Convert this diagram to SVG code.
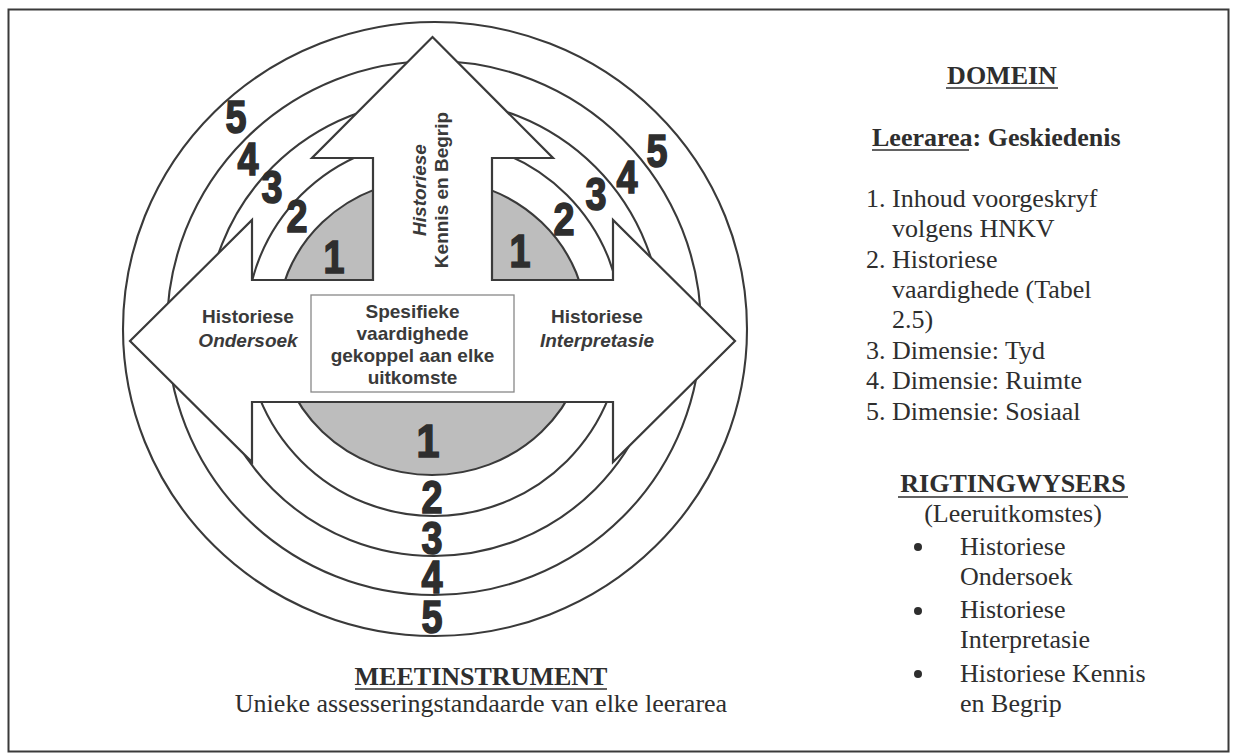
<svg xmlns="http://www.w3.org/2000/svg" width="1236" height="756" viewBox="0 0 1236 756">
<style>
.ln{fill:none;stroke:#3a3a3a;stroke-width:2.1}
.num{font-family:"Liberation Sans",Arial,sans-serif;font-weight:bold;font-size:47px;fill:#2e2e2e;stroke:#2e2e2e;stroke-width:1.6;text-anchor:middle}
.lbl{font-family:"Liberation Sans",Arial,sans-serif;font-weight:bold;font-size:19px;fill:#3a3a3a;text-anchor:middle}
.it{font-style:italic}
.ser{font-family:"Liberation Serif","Times New Roman",serif;font-size:26px;fill:#2e2e2e}
.b{font-weight:bold}
.ul{stroke:#2e2e2e;stroke-width:1.6}
</style>
<rect x="8.5" y="9.5" width="1220" height="742" fill="#ffffff" stroke="#3a3a3a" stroke-width="2"/>
<g id="rings">
<ellipse cx="435" cy="329" rx="312" ry="307" class="ln"/>
<circle cx="434" cy="328" r="267" class="ln"/>
<circle cx="434" cy="328" r="228" class="ln"/>
<circle cx="434" cy="328" r="188" class="ln"/>
<ellipse cx="432" cy="327" rx="155" ry="148" fill="#bdbdbd" stroke="#3a3a3a" stroke-width="2.1"/>
</g>
<g id="arrows">
<polygon points="432.5,37 553,158 492,158 492,280 613,280 613,220 735,341 613,462 613,402 252,402 252,462 130,341 252,220 252,280 373,280 373,158 312,158" fill="#ffffff" stroke="#3a3a3a" stroke-width="2.2" stroke-linejoin="miter"/>
</g>
<g id="center-box">
<rect x="311" y="295" width="203" height="97" fill="#ffffff" stroke="#888" stroke-width="1.3"/>
<text class="lbl" font-size="18.5"><tspan x="412.5" y="318">Spesifieke</tspan><tspan x="412.5" y="340">vaardighede</tspan><tspan x="412.5" y="362">gekoppel aan elke</tspan><tspan x="412.5" y="384">uitkomste</tspan></text>
</g>
<g id="arrow-left">
<text class="lbl"><tspan x="248" y="323">Historiese</tspan><tspan x="248" y="347" class="it">Ondersoek</tspan></text>
</g>
<g id="arrow-right">
<text class="lbl"><tspan x="597" y="323">Historiese</tspan><tspan x="597" y="347" class="it">Interpretasie</tspan></text>
</g>
<g id="arrow-up">
<text class="lbl" transform="translate(426,190) rotate(-90)"><tspan x="0" y="0" class="it">Historiese</tspan><tspan x="0" y="22">Kennis en Begrip</tspan></text>
</g>
<g id="numbers">
<text class="num" x="236" y="133" textLength="21" lengthAdjust="spacingAndGlyphs">5</text>
<text class="num" x="248" y="175" textLength="21" lengthAdjust="spacingAndGlyphs">4</text>
<text class="num" x="272" y="203" textLength="21" lengthAdjust="spacingAndGlyphs">3</text>
<text class="num" x="297" y="232" textLength="21" lengthAdjust="spacingAndGlyphs">2</text>
<text class="num" x="334" y="273" textLength="21" lengthAdjust="spacingAndGlyphs">1</text>
<text class="num" x="520" y="267" textLength="21" lengthAdjust="spacingAndGlyphs">1</text>
<text class="num" x="564" y="235" textLength="21" lengthAdjust="spacingAndGlyphs">2</text>
<text class="num" x="596" y="210" textLength="21" lengthAdjust="spacingAndGlyphs">3</text>
<text class="num" x="627" y="193" textLength="21" lengthAdjust="spacingAndGlyphs">4</text>
<text class="num" x="657" y="167" textLength="21" lengthAdjust="spacingAndGlyphs">5</text>
<text class="num" x="428" y="457" textLength="23" lengthAdjust="spacingAndGlyphs" font-size="51">1</text>
<text class="num" x="432" y="513" textLength="21" lengthAdjust="spacingAndGlyphs">2</text>
<text class="num" x="432" y="554" textLength="21" lengthAdjust="spacingAndGlyphs">3</text>
<text class="num" x="432" y="593" textLength="21" lengthAdjust="spacingAndGlyphs">4</text>
<text class="num" x="432" y="633" textLength="21" lengthAdjust="spacingAndGlyphs">5</text>
</g>
<g id="meetinstrument">
<text class="ser b" x="481" y="685" text-anchor="middle">MEETINSTRUMENT</text>
<line class="ul" x1="355" y1="689" x2="607" y2="689"/>
<text class="ser" x="481" y="712" text-anchor="middle">Unieke assesseringstandaarde van elke leerarea</text>
</g>
<g id="domein">
<text class="ser b" x="1002" y="84" text-anchor="middle">DOMEIN</text>
<line class="ul" x1="946" y1="88" x2="1058" y2="88"/>
<text class="ser b" x="872" y="146">Leerarea:  Geskiedenis</text>
<line class="ul" x1="872" y1="150" x2="969" y2="150"/>
<text class="ser">
<tspan x="866" y="206.5">1. Inhoud voorgeskryf</tspan>
<tspan x="892" y="237">volgens HNKV</tspan>
<tspan x="866" y="267.5">2. Historiese</tspan>
<tspan x="892" y="298">vaardighede (Tabel</tspan>
<tspan x="892" y="328">2.5)</tspan>
<tspan x="866" y="358.5">3. Dimensie: Tyd</tspan>
<tspan x="866" y="389">4. Dimensie: Ruimte</tspan>
<tspan x="866" y="419.5">5. Dimensie: Sosiaal</tspan>
</text>
</g>
<g id="rigtingwysers">
<text class="ser b" x="1013" y="492" text-anchor="middle">RIGTINGWYSERS</text>
<line class="ul" x1="898" y1="497" x2="1128" y2="497"/>
<text class="ser" x="1013" y="522" text-anchor="middle">(Leeruitkomstes)</text>
<circle cx="918" cy="547" r="4" fill="#2e2e2e"/>
<circle cx="918" cy="611" r="4" fill="#2e2e2e"/>
<circle cx="918" cy="674" r="4" fill="#2e2e2e"/>
<text class="ser">
<tspan x="960" y="555">Historiese</tspan>
<tspan x="960" y="585">Ondersoek</tspan>
<tspan x="960" y="618">Historiese</tspan>
<tspan x="960" y="648">Interpretasie</tspan>
<tspan x="960" y="681.5">Historiese Kennis</tspan>
<tspan x="960" y="712">en Begrip</tspan>
</text>
</g>
</svg>
